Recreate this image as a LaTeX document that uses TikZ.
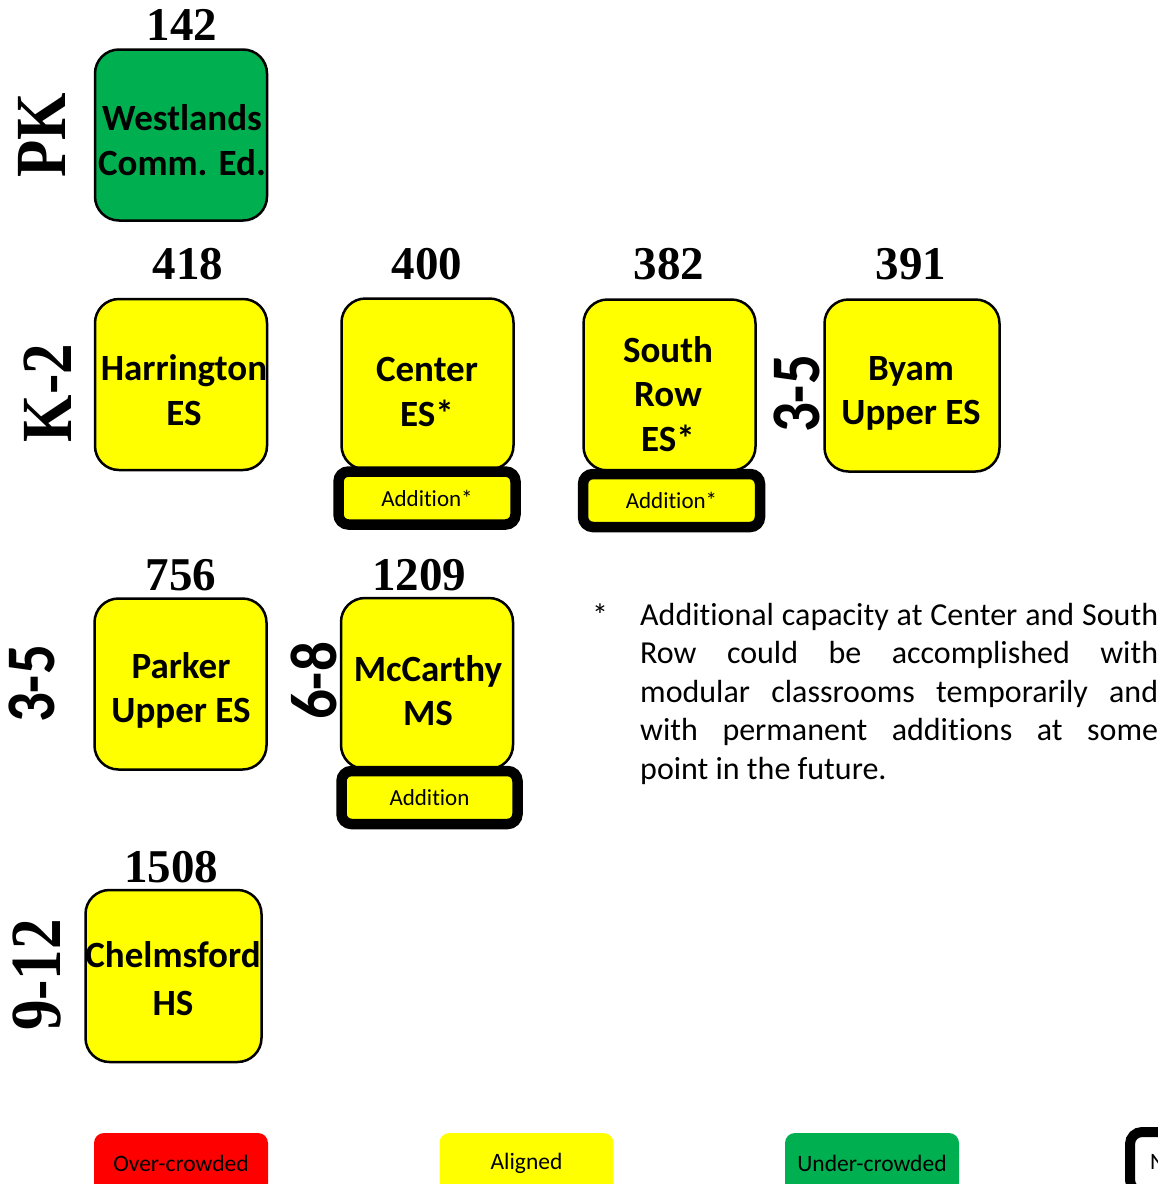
\documentclass[tikz,border=0pt]{standalone}
\usepackage{fontspec}
\usepackage{graphicx}
\setmainfont{Carlito}[Ligatures=NoCommon]
\newfontfamily\tnr{Liberation Serif}
\definecolor{sgreen}{HTML}{00B050}
\definecolor{syellow}{HTML}{FFFF00}
\definecolor{sred}{HTML}{FF0000}
\tikzset{
  school/.style={draw=black, line width=2.5pt, rounded corners=24pt, fill=syellow,
    minimum width=172pt, minimum height=171pt, inner sep=0pt},
  lbl/.style={align=center, inner sep=0pt, font=\bfseries\fontsize{37}{44.5}\selectfont},
  num/.style={inner sep=0pt, font=\tnr\bfseries\fontsize{47}{50}\selectfont},
  addbox/.style={draw=black, line width=10.5pt, rounded corners=10pt, fill=syellow,
    minimum width=177pt, minimum height=53pt, inner sep=0pt, font=\fontsize{23}{27}\selectfont},
  rotser/.style={rotate=90, inner sep=0pt, font=\tnr\bfseries\fontsize{61}{61}\selectfont},
  rotsan/.style={rotate=90, inner sep=0pt, font=\bfseries\fontsize{59}{59}\selectfont},
  legbox/.style={rounded corners=10pt, minimum width=174pt, minimum height=60pt,
    inner sep=0pt, font=\fontsize{23.5}{27}\selectfont},
}
\begin{document}
\begin{tikzpicture}[x=1pt,y=-1pt]
\useasboundingbox (0,0) rectangle (1158,1184);
\clip (0,0) rectangle (1158,1184);

% row labels
\node[rotser] (pk) at (42,135) {\scalebox{1}[1.18]{PK}};
\node[rotser] (k2) at (48,393) {\scalebox{1}[1.18]{K-2}};
\node[rotsan] (g35) at (32,684) {\scalebox{1}[1.18]{3-5}};
\node[rotsan] (g68) at (314,681) {\scalebox{1}[1.12]{6-8}};
\node[rotsan] (g35b) at (797,394) {\scalebox{1}[1.18]{3-5}};
\node[rotser] (g912) at (37,975) {\scalebox{1}[1.18]{9-12}};

% numbers
\node[num] (n142) at (182,25) {142};
\node[num] (n418) at (188,264) {418};
\node[num] (n400) at (427,264) {400};
\node[num] (n382) at (669,264) {382};
\node[num] (n391) at (911,264) {391};
\node[num] (n756) at (181,575) {756};
\node[num] (n1209) at (419,575) {1209};
\node[num] (n1508) at (171,867) {1508};

% school boxes
\node[school, fill=sgreen] (westl) at (181,135) {};
\node[school] (harr) at (181,384.5) {};
\node[school] (cent) at (427.5,384) {};
\node[school] (south) at (669.5,385) {};
\node[school, minimum width=175pt, minimum height=172pt] (byam) at (912,385.5) {};
\node[school] (park) at (180.5,684) {};
\node[school] (mcc) at (427,683.5) {};
\node[school, minimum width=176pt, minimum height=172pt] (chelm) at (173.5,976) {};

% school names
\node[lbl] (westl-t) at (182,140) {Westlands\\Comm. Ed.};
\node[lbl] (harr-t) at (184,390) {Harrington\\ES};
\node[lbl] (cent-t) at (427,392) {Center\\ES*};
\node[lbl] (south-t) at (668,394) {South\\Row\\ES*};
\node[lbl] (byam-t) at (911,393.5) {Byam\\Upper ES};
\node[lbl] (park-t) at (181,690.5) {Parker\\Upper ES};
\node[lbl] (mcc-t) at (428,690.5) {McCarthy\\MS};
\node[lbl, font=\bfseries\fontsize{37}{48}\selectfont] (chelm-t) at (173,979) {Chelmsford\\HS};

% additions
\node[addbox] (cent-a) at (427,498) {Addition*};
\node[addbox] (south-a) at (671.5,500.5) {Addition*};
\node[addbox, minimum width=176pt] (mcc-a) at (429.5,797.5) {Addition};

% footnote
\node[anchor=base, inner sep=0pt, font=\fontsize{32}{38.5}\selectfont] (star) at (600,626) {*};
\node[anchor=north west, inner sep=0pt, align=left, font=\fontsize{32}{38.5}\selectfont] (note) at (640,603)
  {\makebox[518pt][s]{Additional capacity at Center and South}\\
   \makebox[518pt][s]{Row could be accomplished with}\\
   \makebox[518pt][s]{modular classrooms temporarily and}\\
   \makebox[518pt][s]{with permanent additions at some}\\
   point in the future.};

% legend
\node[legbox, fill=sred] (over) at (181,1163) {Over-crowded};
\node[legbox, fill=syellow] (align) at (526.5,1163) {Aligned};
\node[legbox, fill=sgreen] (under) at (872,1163) {Under-crowded};
\node[draw=black, line width=10pt, rounded corners=12pt, fill=white, minimum width=180pt,
  minimum height=60pt, outer sep=0pt, anchor=north west] (newb) at (1130,1132) {};
\node[anchor=west, inner sep=0pt, font=\fontsize{23.5}{27}\selectfont] (newb-t) at (1150,1162) {New};
\end{tikzpicture}
\end{document}
